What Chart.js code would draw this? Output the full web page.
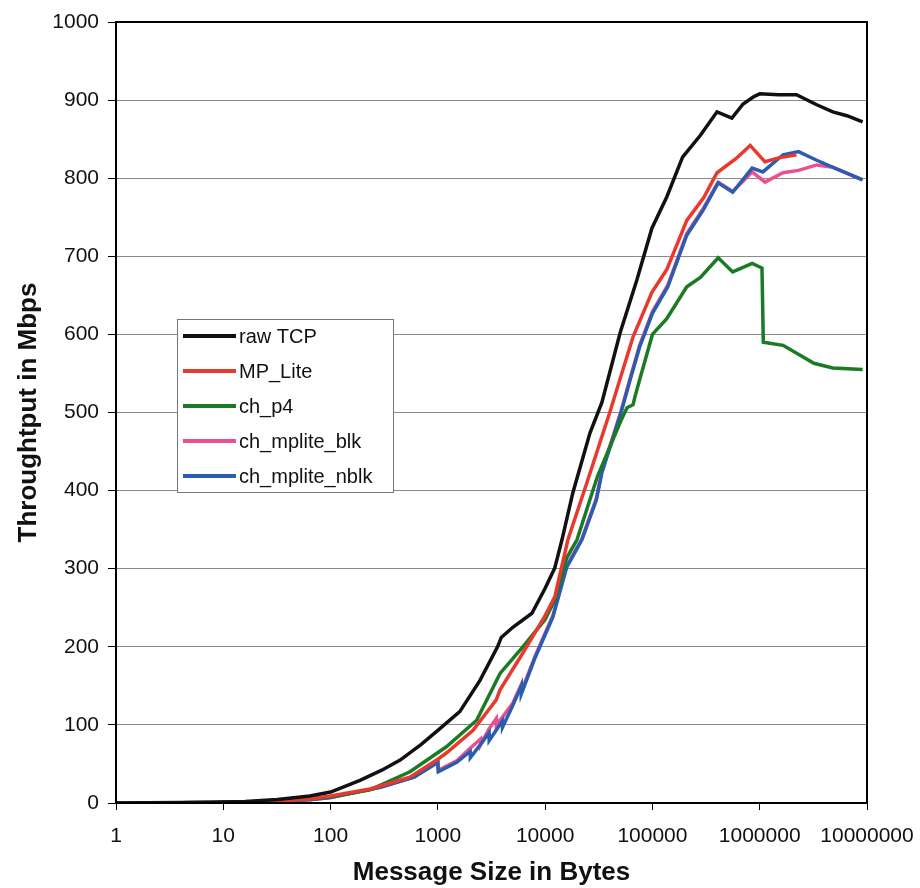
<!DOCTYPE html>
<html>
<head>
<meta charset="utf-8">
<script src="https://cdn.jsdelivr.net/npm/chart.js@4"></script>
<style>
  html, body { margin: 0; padding: 0; background: #fff; }
  #wrap { width: 920px; height: 888px; }
</style>
</head>
<body>
<div id="wrap"><canvas id="chart" width="920" height="888"></canvas></div>
<script>
// message sizes (bytes) and throughput (Mbps)
const tcpSize = [1, 2, 4, 8, 16, 32, 64, 100, 188, 300, 445, 700, 1000, 1600, 2470, 3600, 3900, 5000, 7530, 10000, 12300, 14350, 18100, 26200, 33800, 50000, 71700, 98900, 136000, 191000, 280000, 400000, 550000, 700000, 870000, 1000000, 1500000, 2200000, 3400000, 4800000, 6500000, 9100000];
const tcpMbps = [0.1, 0.2, 0.5, 1, 2, 4.5, 9, 14, 29, 42, 55, 75, 93, 117, 157, 200, 212, 225, 243, 275, 301, 337, 397, 474, 513, 602, 670, 736, 776, 827, 855, 885, 877, 895, 904, 908, 907, 907, 894, 885, 880, 872];

const mpliteSize = [1, 2, 4, 8, 16, 32, 64, 100, 233, 550, 1000, 1200, 2130, 3500, 3800, 6200, 10000, 12300, 16300, 24500, 40000, 66000, 98900, 136000, 209000, 300000, 400000, 600000, 815000, 1120000, 1500000, 2200000];
const mpliteMbps = [0.05, 0.1, 0.3, 0.6, 1.2, 2.5, 5, 9, 18, 33, 56, 64, 93, 132, 145, 192, 240, 264, 337, 410, 500, 597, 654, 683, 746, 775, 807, 825, 842, 821, 826, 830];

const p4Size = [1, 2, 4, 8, 16, 32, 64, 100, 233, 550, 1200, 2300, 3800, 6200, 10000, 12300, 15900, 19800, 30700, 51000, 58000, 66000, 68700, 76000, 100000, 136000, 209000, 280000, 410000, 560000, 850000, 1050000, 1080000, 1650000, 3200000, 4800000, 9100000];
const p4Mbps = [0.05, 0.1, 0.3, 0.6, 1.2, 2.5, 5, 8, 17, 40, 72, 106, 166, 200, 235, 260, 314, 337, 418, 490, 506, 510, 520, 542, 600, 620, 661, 673, 698, 680, 691, 685, 590, 586, 563, 557, 555];

const blkSize = [1, 2, 4, 8, 16, 32, 64, 100, 290, 600, 1000, 1010, 1500, 2000, 2500, 2510, 3000, 3500, 3510, 4000, 5000, 6000, 6010, 8000, 11800, 15900, 22000, 30000, 33800, 51000, 62000, 76000, 100000, 139000, 209000, 300000, 410000, 560000, 850000, 1120000, 1650000, 2300000, 3400000, 4800000, 9100000];
const blkMbps = [0.03, 0.08, 0.2, 0.5, 1, 2, 4, 7, 20, 33, 52, 42, 54, 70, 82, 75, 95, 108, 100, 110, 128, 152, 143, 187, 240, 304, 338, 390, 425, 502, 544, 586, 629, 663, 729, 762, 795, 783, 808, 795, 807, 810, 817, 814, 798];

const nblkSize = [1, 2, 4, 8, 16, 32, 64, 100, 290, 600, 1000, 1010, 1500, 2000, 2010, 2500, 3000, 3010, 4000, 4010, 5000, 6000, 6010, 8000, 11800, 15900, 22000, 30000, 33800, 51000, 62000, 76000, 100000, 139000, 209000, 300000, 410000, 560000, 850000, 1070000, 1650000, 2300000, 3400000, 4800000, 9100000];
const nblkMbps = [0.03, 0.08, 0.2, 0.5, 1, 2, 4, 7, 20, 33, 52, 40, 52, 66, 58, 75, 90, 80, 105, 97, 125, 150, 140, 185, 238, 302, 337, 388, 423, 500, 542, 584, 627, 661, 727, 760, 794, 782, 813, 808, 830, 834, 823, 814, 798];

const seriesNames = ['raw TCP', 'MP_Lite', 'ch_p4', 'ch_mplite_blk', 'ch_mplite_nblk'];
const seriesColors = ['#111111', '#e8392e', '#1b7a24', '#ec4f8f', '#2a5db0'];
const xTicks = [1, 10, 100, 1000, 10000, 100000, 1000000, 10000000];

const toPoints = (xs, ys) => xs.map((x, i) => ({ x: x, y: ys[i] }));
const allSeries = [
  toPoints(tcpSize, tcpMbps),
  toPoints(mpliteSize, mpliteMbps),
  toPoints(p4Size, p4Mbps),
  toPoints(blkSize, blkMbps),
  toPoints(nblkSize, nblkMbps),
];
// draw order: blue over pink, black on top
const drawOrder = [1, 2, 3, 5, 4];

const FONT = '"Liberation Sans", Arial, sans-serif';

// plot frame + boxed legend inside the plot
const framePlugin = {
  id: 'frame',
  afterDatasetsDraw(chart) {
    const { ctx, chartArea: a } = chart;
    ctx.save();
    ctx.strokeStyle = '#000';
    ctx.lineWidth = 2;
    ctx.strokeRect(a.left, a.top, a.right - a.left, a.bottom - a.top);

    // legend box
    const bx = 177, by = 319, bw = 216, bh = 173;
    ctx.fillStyle = '#fff';
    ctx.fillRect(bx, by, bw, bh);
    ctx.strokeStyle = '#777';
    ctx.lineWidth = 1;
    ctx.strokeRect(bx + 0.5, by + 0.5, bw, bh);
    ctx.font = '20px ' + FONT;
    ctx.textBaseline = 'middle';
    chart.data.datasets.forEach((ds, i) => {
      const y = 336 + i * 35;
      ctx.strokeStyle = ds.borderColor;
      ctx.lineWidth = 4;
      ctx.beginPath();
      ctx.moveTo(183, y);
      ctx.lineTo(236, y);
      ctx.stroke();
      ctx.fillStyle = '#111';
      ctx.fillText(ds.label, 239, y + 1);
    });
    ctx.restore();
  }
};

new Chart(document.getElementById('chart'), {
  type: 'line',
  data: {
    datasets: seriesNames.map((name, i) => ({
      label: name,
      data: allSeries[i],
      borderColor: seriesColors[i],
      backgroundColor: seriesColors[i],
      borderWidth: 3.5,
      pointRadius: 0,
      tension: 0,
      order: drawOrder[i],
    })),
  },
  options: {
    responsive: false,
    animation: false,
    layout: { padding: { top: 22, right: 53, left: 0, bottom: 0 } },
    plugins: {
      legend: { display: false },
      tooltip: { enabled: false },
    },
    scales: {
      x: {
        type: 'logarithmic',
        min: 1,
        max: 10000000,
        afterBuildTicks: (scale) => {
          scale.ticks = xTicks.map(v => ({ value: v, major: true }));
        },
        afterFit: (scale) => {
          scale.height = 85;
          scale.paddingLeft = 0;
          scale.paddingRight = 0;
        },
        ticks: {
          autoSkip: false,
          maxRotation: 0,
          padding: 14,
          color: '#111',
          font: { family: FONT, size: 21 },
          callback: (v) => String(v),
        },
        grid: {
          drawOnChartArea: false,
          drawTicks: true,
          tickLength: 7,
          tickColor: '#000',
        },
        border: { color: '#000', width: 2 },
        title: {
          display: true,
          text: 'Message Size in Bytes',
          color: '#111',
          font: { family: FONT, size: 26, weight: 'bold' },
          padding: { top: 0, bottom: 0 },
        },
      },
      y: {
        min: 0,
        max: 1000,
        afterFit: (scale) => {
          scale.width = 116;
          scale.paddingTop = 0;
          scale.paddingBottom = 0;
        },
        ticks: {
          stepSize: 100,
          padding: 9,
          color: '#111',
          font: { family: FONT, size: 21 },
          callback: (v) => String(v),
        },
        grid: {
          color: '#8a8a8a',
          lineWidth: 1,
          tickLength: 8,
          tickColor: '#000',
        },
        border: { color: '#000', width: 2 },
        title: {
          display: true,
          text: 'Throughtput in Mbps',
          color: '#111',
          font: { family: FONT, size: 26, weight: 'bold' },
          padding: { top: 13, bottom: 0 },
        },
      },
    },
  },
  plugins: [framePlugin],
});
</script>
</body>
</html>
